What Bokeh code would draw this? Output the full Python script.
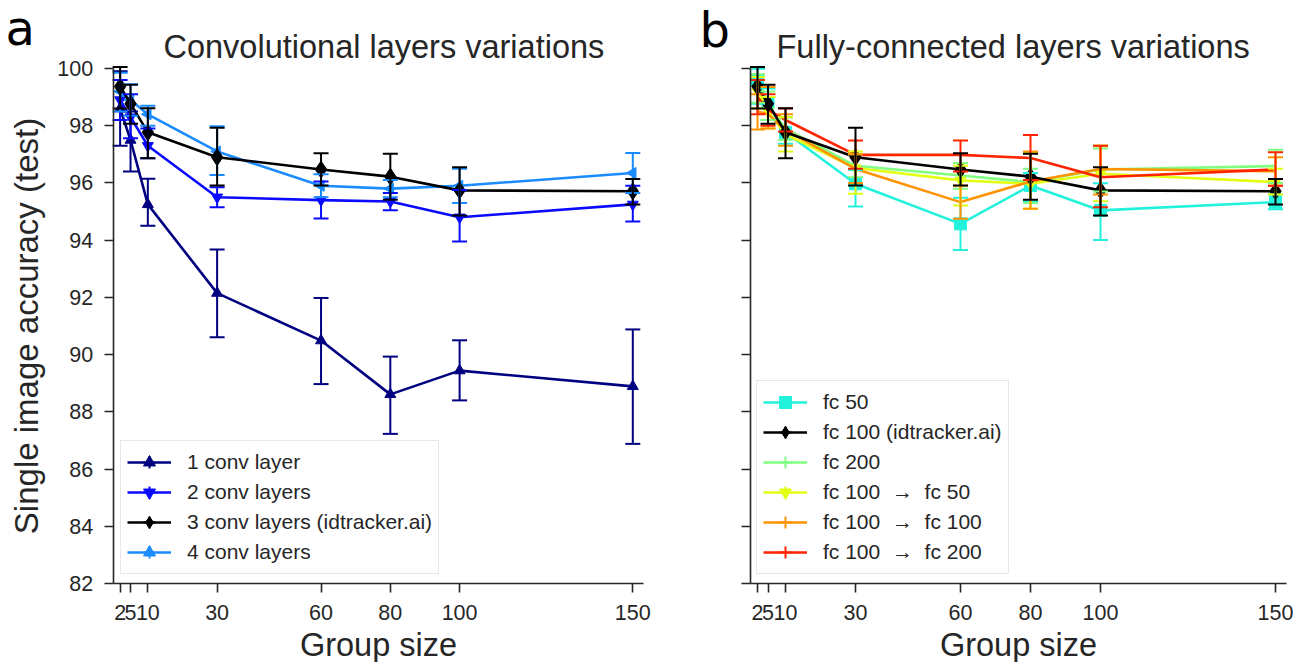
from bokeh.plotting import figure
from bokeh.models import (ColumnDataSource, Whisker, TeeHead, Legend, LegendItem,
                          FixedTicker, Label, Range1d)
from bokeh.layouts import row
from bokeh.embed import file_html
from bokeh.resources import INLINE
import math

# ---------------- data ----------------
group_sizes = [2, 5, 10, 30, 60, 80, 100, 150]
x_tick_labels = ["2", "5", "10", "30", "60", "80", "100", "150"]
y_ticks = [82, 84, 86, 88, 90, 92, 94, 96, 98, 100]

# panel a: convolutional layers
conv1_mean = [98.6, 97.5, 95.25, 92.15, 90.49, 88.61, 89.44, 88.89]
conv1_upper = [99.9, 98.5, 96.15, 93.67, 91.98, 89.93, 90.50, 90.88]
conv1_lower = [97.3, 96.4, 94.5, 90.61, 88.97, 87.23, 88.40, 86.88]

conv2_mean = [98.9, 98.3, 97.3, 95.5, 95.4, 95.35, 94.8, 95.25]
conv2_upper = [99.6, 99.1, 97.9, 95.85, 96.05, 95.65, 95.75, 95.9]
conv2_lower = [98.2, 97.56, 96.86, 95.15, 94.76, 95.05, 93.95, 94.65]

idt_mean = [99.37, 98.77, 97.77, 96.9, 96.47, 96.22, 95.74, 95.71]
idt_upper = [100.05, 99.43, 98.61, 97.93, 97.04, 97.02, 96.55, 96.14]
idt_lower = [98.6, 98.07, 96.86, 95.91, 95.91, 95.41, 94.86, 95.25]

conv4_mean = [99.2, 98.9, 98.4, 97.1, 95.9, 95.8, 95.9, 96.35]
conv4_upper = [99.85, 99.45, 98.7, 97.98, 96.3, 96.1, 96.5, 97.05]
conv4_lower = [98.5, 98.35, 98.0, 96.28, 95.5, 95.5, 95.3, 95.65]

# panel b: fully-connected layers
fc50_mean = [99.58, 98.8, 97.77, 95.97, 94.57, 95.91, 95.04, 95.33]
fc50_upper = [99.99, 99.3, 98.3, 96.45, 95.48, 96.35, 95.99, 95.6]
fc50_lower = [98.77, 98.2, 97.37, 95.18, 93.66, 95.35, 94.01, 95.08]

fc200_mean = [99.3, 98.7, 97.9, 96.6, 96.26, 96.03, 96.47, 96.59]
fc200_upper = [99.8, 99.2, 98.3, 97.0, 96.7, 96.5, 97.2, 97.16]
fc200_lower = [98.8, 98.2, 97.5, 96.2, 95.8, 95.3, 95.7, 96.0]

fc100_50_mean = [99.2, 98.5, 97.7, 96.52, 96.09, 95.97, 96.32, 96.03]
fc100_50_upper = [99.7, 99.0, 98.3, 97.1, 96.6, 97.07, 97.3, 96.5]
fc100_50_lower = [98.6, 97.9, 97.1, 95.62, 95.21, 95.1, 95.36, 95.6]

fc100_100_mean = [98.5, 98.4, 97.85, 96.49, 95.33, 96.05, 96.49, 96.41]
fc100_100_upper = [99.1, 99.35, 98.4, 97.0, 95.9, 97.1, 97.3, 96.9]
fc100_100_lower = [97.87, 97.9, 97.3, 96.0, 94.75, 95.1, 95.6, 95.9]

fc100_200_mean = [99.0, 98.55, 98.2, 96.98, 96.98, 96.87, 96.2, 96.47]
fc100_200_upper = [99.6, 99.1, 98.6, 97.48, 97.48, 97.68, 97.3, 97.07]
fc100_200_lower = [98.4, 98.0, 97.8, 96.5, 96.4, 96.1, 95.15, 95.9]

TXT = "#262626"
FONT = "Liberation Sans"
FRAME_H = 662                   # frame covers the whole page height
PX_PER_Y = 28.61                # (583 - 68) / 18
Y_TOP = 100 + 68 / PX_PER_Y
Y_BOTTOM = 82 - (FRAME_H - 583) / PX_PER_Y


def make_fig(frame_w, x_start, x_end, show_ylabels):
    p = figure(width=frame_w, height=FRAME_H,
               frame_width=frame_w, frame_height=FRAME_H,
               min_border_left=0, min_border_right=0,
               min_border_top=0, min_border_bottom=0,
               x_range=Range1d(x_start, x_end), y_range=Range1d(Y_BOTTOM, Y_TOP),
               output_backend="svg", toolbar_location=None,
               background_fill_color="white", border_fill_color="white",
               outline_line_color=None)
    p.xgrid.grid_line_color = None
    p.ygrid.grid_line_color = None
    for ax in (p.xaxis, p.yaxis):
        ax.axis_line_color = TXT
        ax.axis_line_width = 1.6
        ax.major_tick_line_color = TXT
        ax.major_tick_line_width = 1.6
        ax.major_tick_out = 9
        ax.major_tick_in = 0
        ax.minor_tick_line_color = None
        ax.major_label_text_font = FONT
        ax.major_label_text_font_size = "21.5px"
        ax.major_label_text_color = TXT
        ax.axis_label_text_font = FONT
        ax.axis_label_text_font_style = "normal"
        ax.axis_label_text_color = TXT
    p.xaxis.bounds = (0, 153)
    p.xaxis.fixed_location = 82
    p.xaxis.ticker = FixedTicker(ticks=group_sizes)
    p.xaxis.major_label_overrides = {g: s for g, s in zip(group_sizes, x_tick_labels)}
    p.xaxis.major_label_standoff = 13
    p.xaxis.axis_label = "Group size"
    p.xaxis.axis_label_text_font_size = "32.5px"
    p.xaxis.axis_label_standoff = 3
    p.yaxis.bounds = (82, 100)
    p.yaxis.fixed_location = 0
    p.yaxis.ticker = FixedTicker(ticks=y_ticks)
    p.yaxis.major_label_standoff = 11
    if show_ylabels:
        p.yaxis.axis_label = "Single image accuracy (test)"
        p.yaxis.axis_label_text_font_size = "33px"
        p.yaxis.axis_label_standoff = 10
    else:
        p.yaxis.major_label_text_color = None
    return p


def series(p, mean, upper, lower, color, marker=None, msize=12, angle=0.0):
    src = ColumnDataSource(dict(x=group_sizes, y=mean, up=upper, lo=lower))
    w = Whisker(source=src, base="x", upper="up", lower="lo", dimension="height",
                line_color=color, line_width=2,
                upper_head=TeeHead(size=15, line_color=color, line_width=2),
                lower_head=TeeHead(size=15, line_color=color, line_width=2),
                level="glyph")
    p.add_layout(w)
    rs = [p.line("x", "y", source=src, line_color=color, line_width=2.6)]
    # error-bar stem shown only in the legend swatch (zero size in the plot)
    rs.append(p.scatter("x", "y", source=src, marker="cross", size=0,
                        line_color=color, line_width=2))
    if marker:
        rs.append(p.scatter("x", "y", source=src, marker=marker, size=msize,
                            angle=angle, fill_color=color, line_color=color))
    return rs


def make_legend(items, x, y):
    return Legend(items=items, location=(x, y), glyph_height=30,
                  glyph_width=44, label_standoff=16, spacing=0, padding=6,
                  margin=0, label_text_font=FONT, label_text_font_size="21px",
                  label_text_color=TXT, border_line_color="#d0d0d0",
                  border_line_width=1.2, background_fill_alpha=1.0)


def text_label(p, x, y, text, font, size, color):
    p.add_layout(Label(x=x, y=y, x_units="screen", y_units="screen", text=text,
                       text_font=font, text_font_size=size, text_color=color,
                       text_baseline="alphabetic", text_align="left"))


LEG_Y = FRAME_H - 574            # legend bottom edge sits at page y 574

# ---------------- panel a ----------------
# frame spans page x 0..695; x = 0 sits at page x 112.7 (3.464 px per unit)
pa = make_fig(695, -112.7 / 3.464, (695 - 112.7) / 3.464, True)
r1 = series(pa, conv1_mean, conv1_upper, conv1_lower, "#000080", "triangle", 11)
r2 = series(pa, conv2_mean, conv2_upper, conv2_lower, "#0a0aff", "inverted_triangle", 11)
r4 = series(pa, conv4_mean, conv4_upper, conv4_lower, "#1a8cff", "triangle", 11, math.pi / 2)
r3 = series(pa, idt_mean, idt_upper, idt_lower, "#000000", "diamond", 17)
pa.add_layout(make_legend([
    LegendItem(label="1 conv layer", renderers=r1),
    LegendItem(label="2 conv layers", renderers=r2),
    LegendItem(label="3 conv layers (idtracker.ai)", renderers=r3),
    LegendItem(label="4 conv layers", renderers=r4),
], 120, LEG_Y))
text_label(pa, 163, FRAME_H - 46, "Convolutional layers variations", FONT, "32.5px", TXT)
text_label(pa, 5, FRAME_H - 27.5, "a", "DejaVu Sans", "48px", "black")

# ---------------- panel b ----------------
# frame spans page x 695..1300; x = 0 sits at page x 750 (3.5 px per unit)
pb = make_fig(605, -55 / 3.5, 550 / 3.5, False)
b1 = series(pb, fc50_mean, fc50_upper, fc50_lower, "#22f2dc", "square", 12)
b3 = series(pb, fc200_mean, fc200_upper, fc200_lower, "#80ff80")
b4 = series(pb, fc100_50_mean, fc100_50_upper, fc100_50_lower, "#e2ff14", "inverted_triangle", 11)
b5 = series(pb, fc100_100_mean, fc100_100_upper, fc100_100_lower, "#ff9400")
b6 = series(pb, fc100_200_mean, fc100_200_upper, fc100_200_lower, "#ff2400")
b2 = series(pb, idt_mean, idt_upper, idt_lower, "#000000", "diamond", 17)
pb.add_layout(make_legend([
    LegendItem(label="fc 50", renderers=b1),
    LegendItem(label="fc 100 (idtracker.ai)", renderers=b2),
    LegendItem(label="fc 200", renderers=b3),
    LegendItem(label="fc 100\u00a0\u00a0\u2192\u00a0\u00a0fc 50", renderers=b4),
    LegendItem(label="fc 100\u00a0\u00a0\u2192\u00a0\u00a0fc 100", renderers=b5),
    LegendItem(label="fc 100\u00a0\u00a0\u2192\u00a0\u00a0fc 200", renderers=b6),
], 61, LEG_Y))
text_label(pb, 81, FRAME_H - 46, "Fully-connected layers variations", FONT, "32.5px", TXT)
text_label(pb, 4, FRAME_H - 29.5, "b", "DejaVu Sans", "48px", "black")

layout = row(pa, pb)
open("out.html", "w").write(file_html(layout, INLINE))
